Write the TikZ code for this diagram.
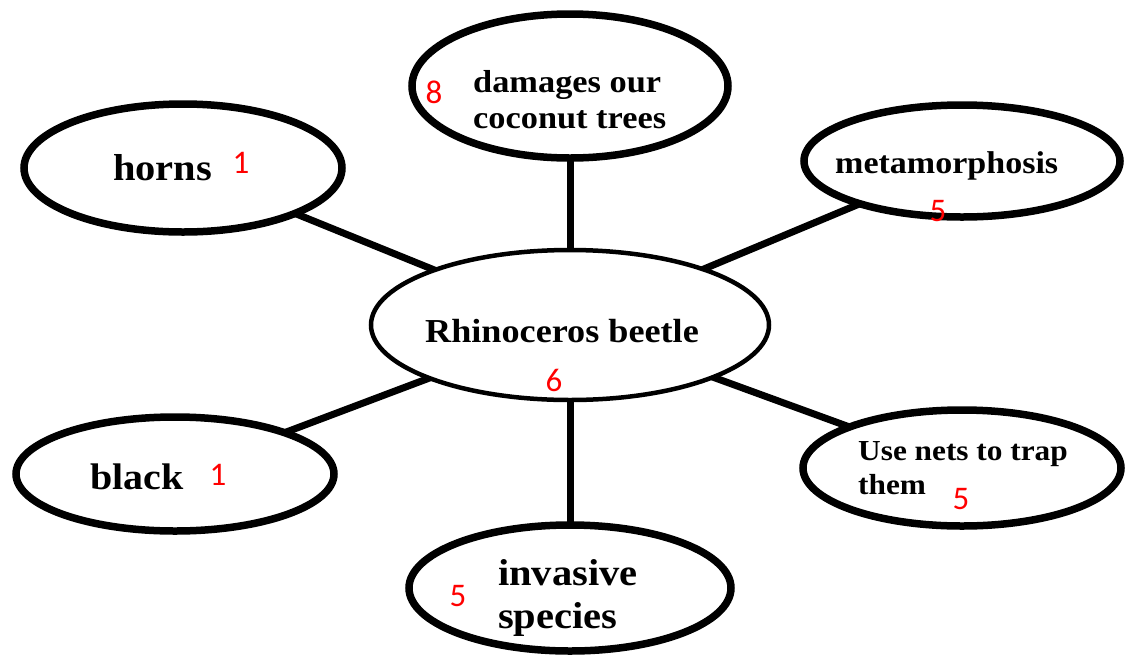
\documentclass[tikz,border=0pt]{standalone}
\usepackage{fontspec}
\usetikzlibrary{shapes.geometric}
\newfontfamily\lblfont{Liberation Serif}[FakeStretch=1.08]
\newfontfamily\digfont{Carlito}
\definecolor{numred}{RGB}{255,0,0}
\tikzset{
  bubble/.style={draw=black, ellipse, line width=7.5pt, fill=white, inner sep=0pt},
  centerbubble/.style={draw=black, ellipse, line width=4.5pt, fill=white, inner sep=0pt},
  conn/.style={draw=black, line width=7pt},
  lbl/.style={inner sep=0pt, anchor=base west, font=\lblfont\bfseries},
  num/.style={inner sep=0pt, anchor=center, text=numred, font=\digfont\fontsize{33}{33}\selectfont},
}
\begin{document}
\begin{tikzpicture}[x=1pt, y=-1pt]
\useasboundingbox (0,0) rectangle (1128,657);
\clip (0,0) rectangle (1128,657);
% connectors first
\coordinate (cR) at (570,325);
\coordinate (cT) at (570,86);
\coordinate (cH) at (183,168);
\coordinate (cM) at (962,161);
\coordinate (cB) at (175,474);
\coordinate (cN) at (962,468);
\coordinate (cI) at (570,588);
\draw[conn] (cH) -- (cR);
\draw[conn] (cT) -- (cR);
\draw[conn] (cM) -- (cR);
\draw[conn] (cB) -- (cR);
\draw[conn] (cN) -- (cR);
\draw[conn] (cI) -- (cR);
% ellipses
\node[centerbubble, minimum width=398pt, minimum height=150pt] (rhino) at (cR) {};
\node[bubble, minimum width=316pt, minimum height=144pt] (dmg) at (cT) {};
\node[bubble, minimum width=318pt, minimum height=128pt] (horns) at (cH) {};
\node[bubble, minimum width=316pt, minimum height=112pt] (meta) at (cM) {};
\node[bubble, minimum width=318pt, minimum height=114pt] (black) at (cB) {};
\node[bubble, minimum width=318pt, minimum height=116pt] (nets) at (cN) {};
\node[bubble, minimum width=322pt, minimum height=126pt] (inv) at (cI) {};
% labels
\node[lbl, font=\lblfont\bfseries\fontsize{33.5}{33.5}\selectfont] (tRhino) at (425,342) {Rhinoceros beetle};
\node[lbl, font=\lblfont\bfseries\fontsize{31.8}{31.8}\selectfont] (tDmg1) at (473,92) {damages our};
\node[lbl, font=\lblfont\bfseries\fontsize{31.8}{31.8}\selectfont] (tDmg2) at (473,128) {coconut trees};
\node[lbl, font=\lblfont\bfseries\fontsize{37.5}{37.5}\selectfont] (tHorns) at (113,180) {horns};
\node[lbl, font=\lblfont\bfseries\fontsize{31.5}{31.5}\selectfont] (tMeta) at (835,173) {metamorphosis};
\node[lbl, font=\lblfont\bfseries\fontsize{37}{37}\selectfont] (tBlack) at (90,489) {black};
\node[lbl, font=\lblfont\bfseries\fontsize{29}{29}\selectfont] (tNets1) at (858,460) {Use nets to trap};
\node[lbl, font=\lblfont\bfseries\fontsize{29}{29}\selectfont] (tNets2) at (858,494) {them};
\node[lbl, font=\lblfont\bfseries\fontsize{37.5}{37.5}\selectfont] (tInv1) at (498,585) {invasive};
\node[lbl, font=\lblfont\bfseries\fontsize{37.5}{37.5}\selectfont] (tInv2) at (498,628) {species};
% red numbers
\node[num] (nRhino) at (554,380) {6};
\node[num] (nDmg) at (434,92) {8};
\node[num] (nHorns) at (241,163) {1};
\node[num] (nMeta) at (938,211) {5};
\node[num] (nBlack) at (218,475) {1};
\node[num] (nNets) at (961,499) {5};
\node[num] (nInv) at (458,596) {5};
\end{tikzpicture}
\end{document}
